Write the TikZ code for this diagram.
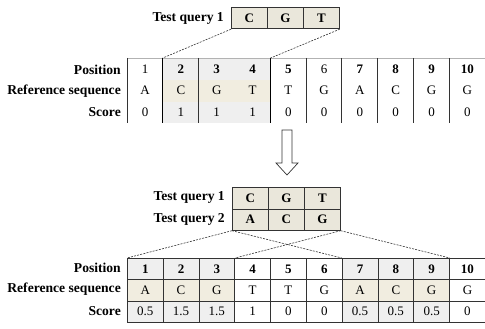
\documentclass[tikz,border=0pt]{standalone}
\usepackage{fontspec}
\setmainfont{Liberation Serif}
\definecolor{qfill}{HTML}{EAE7DB}
\definecolor{pbeige}{HTML}{F1EDE0}
\definecolor{pgray}{HTML}{EFEFEF}
\definecolor{lc}{HTML}{333333}
\begin{document}
\begin{tikzpicture}[x=1pt,y=-1pt,
  lbl/.style={font=\fontsize{13.6}{15}\selectfont\bfseries, anchor=east, inner sep=0pt},
  qcell/.style={draw=lc, line width=0.7pt, fill=qfill, minimum width=36pt, minimum height=21.5pt, inner sep=0pt, anchor=north west, font=\fontsize{13}{14}\selectfont\bfseries},
  tcell/.style={minimum width=35.8pt, minimum height=21.67pt, inner sep=0pt, anchor=north west, font=\fontsize{13}{14}\selectfont},
  bcell/.style={draw=lc, line width=0.7pt, minimum width=35.8pt, minimum height=21.33pt, inner sep=0pt, anchor=north west, font=\fontsize{13}{14}\selectfont},
  vline/.style={draw=lc, line width=0.7pt},
  thk/.style={draw=black, line width=1.2pt},
  dsh/.style={draw=lc, line width=0.6pt, dash pattern=on 2pt off 1.2pt}]
\useasboundingbox (0,0) rectangle (485,329);

% ---------- top query ----------
\node[lbl] (tq1) at (224,18) {Test query 1};
\node[qcell] (qa) at (231,7) {C};
\node[qcell] (qb) at (267,7) {G};
\node[qcell] (qc) at (303,7) {T};

% ---------- top table ----------
\node[lbl] (tlp) at (121,70) {Position};
\node[lbl] (tlr) at (121,91) {Reference sequence};
\node[lbl] (tls) at (121,112.5) {Score};
\foreach \i/\p/\r/\s/\fp/\fr in {
  1/1/A/0/white/white,
  2/\textbf{2}/C/1/pgray/pbeige,
  3/\textbf{3}/G/1/pgray/pbeige,
  4/\textbf{4}/T/1/pgray/pbeige,
  5/\textbf{5}/T/0/white/white,
  6/6/G/0/white/white,
  7/\textbf{7}/A/0/white/white,
  8/\textbf{8}/C/0/white/white,
  9/\textbf{9}/G/0/white/white,
  10/\textbf{10}/G/0/white/white}{
  \node[tcell, fill=\fp] (tp\i) at ({127+35.8*(\i-1)},58) {\p};
  \node[tcell, fill=\fr] (tr\i) at ({127+35.8*(\i-1)},79.67) {\r};
  \node[tcell, fill=\fp] (ts\i) at ({127+35.8*(\i-1)},101.33) {\s};
}
\draw[draw=gray!60, line width=0.6pt] (tp1.north west) -- (tp10.north east);
\foreach \i in {1,3,5,6,7,8,9,10}{
  \draw[vline] (tp\i.north west) -- (ts\i.south west);
}
\draw[thk] (tp2.north west) -- (ts2.south west);
\draw[thk] (tp4.north east) -- (ts4.south east);
\draw[dsh] (qa.south west) -- (tp2.north west);
\draw[dsh] (qc.south east) -- (tp4.north east);

% ---------- arrow ----------
\draw[draw=lc, line width=0.7pt, fill=white]
  (282,130) -- (292,130) -- (292,163) -- (298,163) -- (287,175) -- (276,163) -- (282,163) -- cycle;

% ---------- bottom queries ----------
\node[lbl] (bq1) at (225,197) {Test query 1};
\node[lbl] (bq2) at (225,219) {Test query 2};
\node[qcell] (q1a) at (232,187) {C};
\node[qcell] (q1b) at (268,187) {G};
\node[qcell] (q1c) at (304,187) {T};
\node[qcell] (q2a) at (232,208.5) {A};
\node[qcell] (q2b) at (268,208.5) {C};
\node[qcell] (q2c) at (304,208.5) {G};

% ---------- bottom table ----------
\node[lbl] (blp) at (121,268) {Position};
\node[lbl] (blr) at (121,289.5) {Reference sequence};
\node[lbl] (bls) at (121,311) {Score};
\foreach \i/\p/\r/\s/\fp/\fr in {
  1/1/A/0.5/pgray/pbeige,
  2/2/C/1.5/pgray/pbeige,
  3/3/G/1.5/pgray/pbeige,
  4/4/T/1/white/white,
  5/5/T/0/white/white,
  6/6/G/0/white/white,
  7/7/A/0.5/pgray/pbeige,
  8/8/C/0.5/pgray/pbeige,
  9/9/G/0.5/pgray/pbeige,
  10/10/G/0/white/white}{
  \node[bcell, fill=\fp, font=\fontsize{13}{14}\selectfont\bfseries] (bp\i) at ({127+35.8*(\i-1)},258) {\p};
  \node[bcell, fill=\fr] (br\i) at ({127+35.8*(\i-1)},279.33) {\r};
  \node[bcell, fill=\fp] (bs\i) at ({127+35.8*(\i-1)},300.67) {\s};
}
\draw[dsh] (q2a.south west) -- (bp1.north west);
\draw[dsh] (q2a.south west) -- (bp7.north west);
\draw[dsh] (q2c.south east) -- (bp3.north east);
\draw[dsh] (q2c.south east) -- (bp9.north east);
\end{tikzpicture}
\end{document}
